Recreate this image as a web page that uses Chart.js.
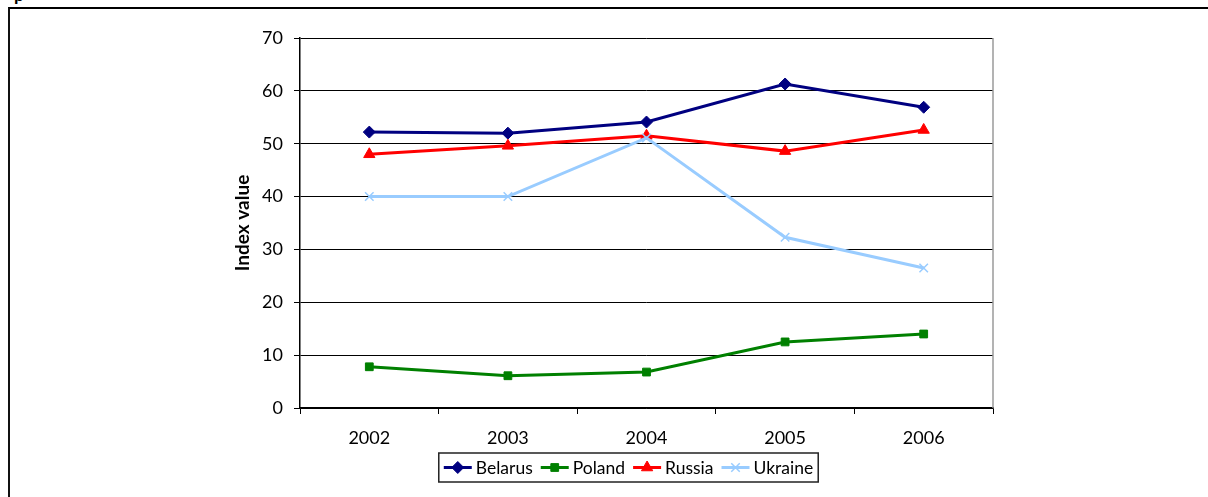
<!DOCTYPE html>
<html>
<head>
<meta charset="utf-8">
<script src="https://cdn.jsdelivr.net/npm/chart.js@4.4.0/dist/chart.umd.min.js"></script>
<style>
  html, body { margin: 0; padding: 0; background: #fff; width: 1208px; height: 497px; overflow: hidden; }
  #wrap { position: relative; width: 1208px; height: 497px; }
  #frame { position: absolute; left: 8px; top: 7px; width: 1200px; height: 490px; border-top: 2px solid #000; border-left: 2px solid #111; box-sizing: border-box; }
  #cut { position: absolute; left: 14px; top: -17px; font: bold 18px "Lato", sans-serif; color: #000; }
  canvas { position: absolute; left: 0; top: 0; }
</style>
</head>
<body>
<div id="wrap">
  <div id="cut">p</div>
  <div id="frame"></div>
  <canvas id="c" width="1208" height="497"></canvas>
</div>
<script>
const years = ['2002', '2003', '2004', '2005', '2006'];
const belarus = [52.2, 52.0, 54.1, 61.3, 56.9];
const poland = [7.8, 6.1, 6.8, 12.5, 14.0];
const russia = [48.0, 49.6, 51.5, 48.6, 52.6];
const ukraine = [40.0, 40.0, 51.1, 32.3, 26.5];
const yTicks = [0, 10, 20, 30, 40, 50, 60, 70];
const yTitle = 'Index value';

const FONT = '"Lato", "DejaVu Sans", sans-serif';

function ds(label, data, color, style, radius, order) {
  return {
    label, data, borderColor: color, backgroundColor: color,
    borderWidth: 3, pointStyle: style, pointRadius: radius, pointHoverRadius: radius,
    pointBorderColor: color, pointBackgroundColor: color, pointBorderWidth: style === 'crossRot' ? 1.5 : 1,
    tension: 0, order
  };
}

const framePlugin = {
  id: 'framePlugin',
  afterDraw(chart) {
    const ctx = chart.ctx;
    const a = chart.chartArea;
    ctx.save();
    ctx.strokeStyle = '#9a9a9a';
    ctx.lineWidth = 1.5;
    ctx.beginPath();
    ctx.moveTo(a.right, a.top);
    ctx.lineTo(a.right, a.bottom);
    ctx.stroke();
    ctx.fillStyle = '#000';
    ctx.font = 'bold 19px ' + FONT;
    ctx.textAlign = 'center';
    ctx.textBaseline = 'middle';
    ctx.translate(243, (a.top + a.bottom) / 2);
    ctx.rotate(-Math.PI / 2);
    ctx.fillText(yTitle, 0, 0);
    ctx.restore();

    ctx.save();
    ctx.font = '17.5px ' + FONT;
    ctx.textBaseline = 'middle';
    const items = chart.data.datasets;
    const lineLen = 28, gapText = 4, gapItem = 8, padX = 5;
    let total = padX * 2;
    const widths = items.map(d => ctx.measureText(d.label).width);
    items.forEach((d, i) => { total += lineLen + gapText + widths[i] + (i < items.length - 1 ? gapItem : 0); });
    const cx = 628.5, cy = 467.5;
    const x0 = cx - total / 2;
    const h = 29;
    ctx.strokeStyle = '#222';
    ctx.lineWidth = 1.5;
    ctx.strokeRect(x0, cy - h / 2, total, h);
    let x = x0 + padX;
    items.forEach((d, i) => {
      ctx.strokeStyle = d.borderColor;
      ctx.lineWidth = 3;
      ctx.beginPath();
      ctx.moveTo(x, cy);
      ctx.lineTo(x + lineLen, cy);
      ctx.stroke();
      ctx.fillStyle = d.borderColor;
      ctx.strokeStyle = d.borderColor;
      ctx.lineWidth = d.pointBorderWidth;
      Chart.helpers.drawPoint(ctx, { pointStyle: d.pointStyle, radius: d.pointRadius, borderWidth: d.pointBorderWidth, rotation: 0 }, x + lineLen / 2, cy);
      ctx.fillStyle = '#000';
      ctx.fillText(d.label, x + lineLen + gapText, cy + 1);
      x += lineLen + gapText + widths[i] + gapItem;
    });
    ctx.restore();
  }
};

new Chart(document.getElementById('c'), {
  type: 'line',
  data: {
    labels: years,
    datasets: [
      ds('Belarus', belarus, '#000080', 'rectRot', 6, 4),
      ds('Poland', poland, '#008000', 'rect', 5.5, 3),
      ds('Russia', russia, '#FF0000', 'triangle', 6.5, 2),
      ds('Ukraine', ukraine, '#99CCFF', 'crossRot', 6, 1)
    ]
  },
  options: {
    responsive: false,
    animation: false,
    events: [],
    layout: { padding: { left: 0, right: 215, top: 38, bottom: 0 } },
    plugins: { legend: { display: false }, tooltip: { enabled: false }, title: { display: false } },
    scales: {
      x: {
        type: 'category',
        offset: true,
        grid: { offset: true, drawOnChartArea: false, drawTicks: true, tickLength: 6, color: '#000', lineWidth: 1 },
        border: { display: true, color: '#000', width: 1.5 },
        ticks: { color: '#000', font: { family: FONT, size: 18 }, padding: 13, maxRotation: 0 },
        afterFit(s) { s.height = 89; }
      },
      y: {
        min: 0, max: 70,
        afterBuildTicks(s) { s.ticks = yTicks.map(v => ({ value: v })); },
        grid: { color: '#000', lineWidth: 1, drawTicks: true, tickLength: 6 },
        border: { display: true, color: '#000', width: 1.5 },
        ticks: { color: '#000', font: { family: FONT, size: 18 }, padding: 11 },
        afterFit(s) { s.width = 300; }
      }
    }
  },
  plugins: [framePlugin]
});
</script>
</body>
</html>
